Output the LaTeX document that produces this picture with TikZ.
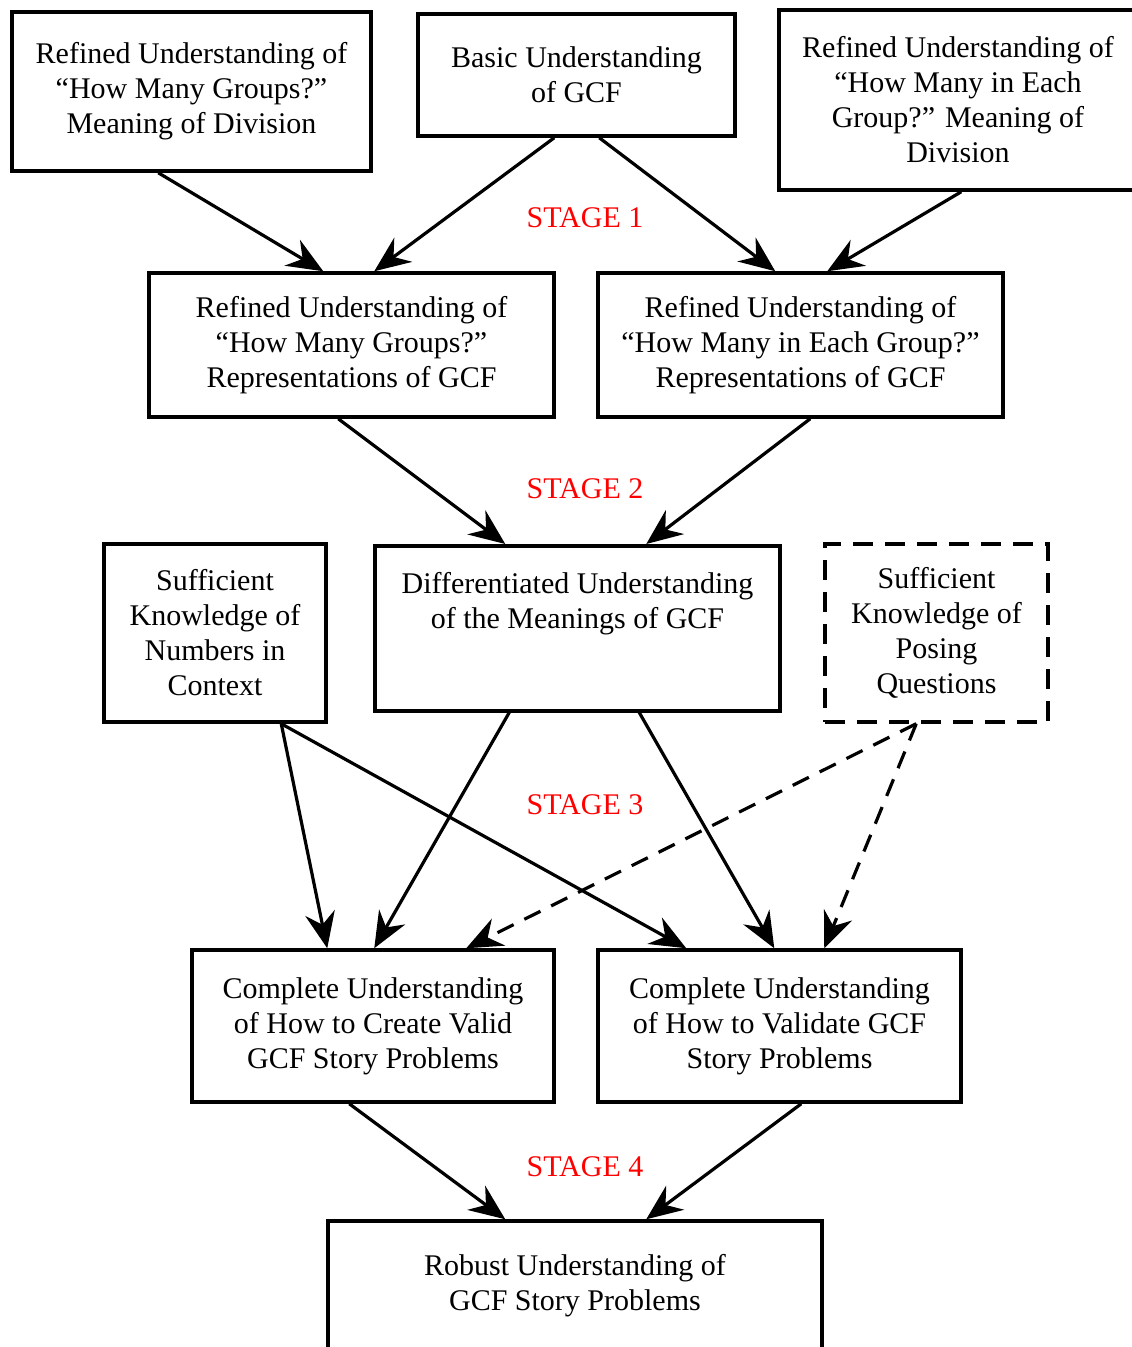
\documentclass[tikz,border=0pt]{standalone}
\usepackage{fontspec}
\setmainfont{Liberation Serif}
\usetikzlibrary{arrows.meta,calc}
\tikzset{
  box/.style={draw, line width=3.5pt, align=center, inner sep=0pt, font=\fontsize{30}{35}\selectfont},
  dbox/.style={box, dash pattern=on 20pt off 12pt},
  arr/.style={line width=3.2pt, -{Stealth[length=36pt,width=30pt,inset=12pt]}},
  darr/.style={arr, dash pattern=on 18pt off 12pt},
  stage/.style={text=red, font=\fontsize{30}{35}\selectfont}
}
\begin{document}
\begin{tikzpicture}[x=1pt,y=-1pt]
\useasboundingbox (0,0) rectangle (1132,1347);
\fill[white] (0,0) rectangle (1132,1347);
% boxes
\node[box, minimum width=359pt, minimum height=159pt] (A) at (191.5,91.5) {Refined Understanding of\\“How Many Groups?”\\Meaning of Division};
\node[box, minimum width=317pt, minimum height=122pt] (B) at (576.5,75) {Basic Understanding\\of GCF};
\node[box, minimum width=358pt, minimum height=180pt] (C) at (958,100) {Refined Understanding of\\“How Many in Each\\Group?” Meaning of\\Division};
\node[box, minimum width=405pt, minimum height=144pt] (D) at (351.5,345) {Refined Understanding of\\“How Many Groups?”\\Representations of GCF};
\node[box, minimum width=405pt, minimum height=144pt] (E) at (800.5,345) {Refined Understanding of\\“How Many in Each Group?”\\Representations of GCF};
\node[box, minimum width=222pt, minimum height=178pt] (F) at (215,633) {Sufficient\\Knowledge of\\Numbers in\\Context};
\node[box, anchor=north, minimum width=405pt, text height=83pt, text depth=82pt] (G) at (577.5,544) {Differentiated Understanding\\of the Meanings of GCF};
\node[dbox, minimum width=223pt, minimum height=178pt] (H) at (936.5,633) {Sufficient\\Knowledge of\\Posing\\Questions};
\node[box, minimum width=362pt, minimum height=152pt] (I) at (373,1026) {Complete Understanding\\of How to Create Valid\\GCF Story Problems};
\node[box, minimum width=363pt, minimum height=152pt] (J) at (779.5,1026) {Complete Understanding\\of How to Validate GCF\\Story Problems};
\node[box, minimum width=494pt, minimum height=130pt] (K) at (575,1286) {Robust Understanding of\\GCF Story Problems};
% stage labels
\node[stage] (s1) at (585,218) {STAGE 1};
\node[stage] (s2) at (585,489) {STAGE 2};
\node[stage] (s3) at (585,805) {STAGE 3};
\node[stage] (s4) at (585,1167) {STAGE 4};
% arrows
\draw[arr] ([xshift=148pt]A.south west) -- ([xshift=176pt]D.north west);
\draw[arr] ([xshift=138pt]B.south west) -- ([xshift=227pt]D.north west);
\draw[arr] ([xshift=183pt]B.south west) -- ([xshift=179pt]E.north west);
\draw[arr] ([xshift=184pt]C.south west) -- ([xshift=231pt]E.north west);
\draw[arr] ([xshift=191pt]D.south west) -- ([xshift=132pt]G.north west);
\draw[arr] ([xshift=214pt]E.south west) -- ([xshift=273pt]G.north west);
\draw[arr] ([xshift=179pt]F.south west) -- ([xshift=137pt]I.north west);
\draw[arr] ([xshift=179pt]F.south west) -- ([xshift=90pt]J.north west);
\draw[arr] ([xshift=136pt]G.south west) -- ([xshift=184pt]I.north west);
\draw[arr] ([xshift=266pt]G.south west) -- ([xshift=178pt]J.north west);
\draw[darr] ([xshift=93pt]H.south west) -- ([xshift=276pt]I.north west);
\draw[darr] ([xshift=93pt]H.south west) -- ([xshift=228pt]J.north west);
\draw[arr] ([xshift=159pt]I.south west) -- ([xshift=179pt]K.north west);
\draw[arr] ([xshift=205pt]J.south west) -- ([xshift=320pt]K.north west);
\end{tikzpicture}
\end{document}
